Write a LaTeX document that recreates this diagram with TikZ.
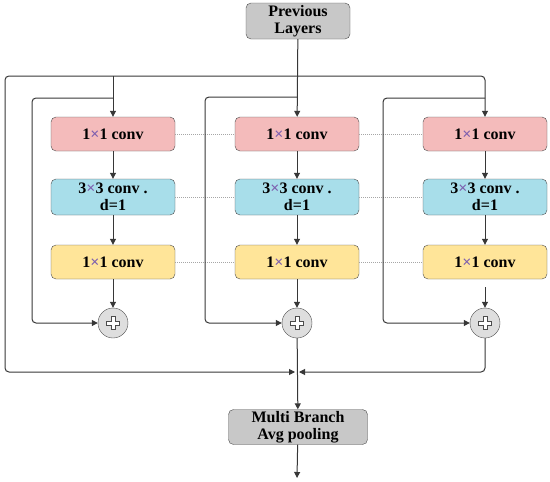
\documentclass[tikz,border=0pt]{standalone}
\usepackage{fontspec}
\setmainfont{Liberation Serif}
\usepackage{xcolor}
\usepackage{tikz}
\usetikzlibrary{arrows.meta}
\definecolor{convpink}{RGB}{244,187,187}
\definecolor{convblue}{RGB}{168,222,234}
\definecolor{convyellow}{RGB}{255,229,153}
\definecolor{boxgray}{RGB}{200,200,200}
\definecolor{addgray}{RGB}{222,222,222}
\definecolor{crosspurple}{RGB}{125,95,175}
\definecolor{linegray}{RGB}{55,55,55}
\newcommand{\tm}{\textcolor{crosspurple}{×}}
\tikzset{cbox/.style={draw=gray!60!black, fill=#1, rounded corners=5pt,
    minimum width=124pt, minimum height=34pt, inner sep=1pt, align=center,
    font=\bfseries\fontsize{16}{17}\selectfont},
  adder/.style={circle, draw=gray!60!black, fill=addgray, minimum size=30pt,
    inner sep=0pt,
    path picture={\draw[draw=gray!60!black, fill=white, line width=0.6pt]
      ([shift={(-2pt,-6.5pt)}]path picture bounding box.center)
      -- ++(4pt,0) -- ++(0,4.5pt) -- ++(4.5pt,0) -- ++(0,4pt) -- ++(-4.5pt,0)
      -- ++(0,4.5pt) -- ++(-4pt,0) -- ++(0,-4.5pt) -- ++(-4.5pt,0)
      -- ++(0,-4pt) -- ++(4.5pt,0) -- cycle;}},
  link/.style={draw=linegray, line width=1pt, rounded corners=4pt}
}

\begin{document}
\begin{tikzpicture}[x=1pt,y=-1pt]
  \useasboundingbox (0,0) rectangle (550,482);
  \node[cbox=boxgray, minimum width=104pt, minimum height=36pt] (prev) at (298,21) {Previous\\Layers};
  % branch 1
  \node[cbox=convpink] (A1) at (113,134) {1\tm 1 conv};
  \node[cbox=convblue, minimum height=36pt] (A2) at (113,197) {3\tm 3 conv .\\d=1};
  \node[cbox=convyellow] (A3) at (113,262) {1\tm 1 conv};
  % branch 2
  \node[cbox=convpink] (B1) at (297,134) {1\tm 1 conv};
  \node[cbox=convblue, minimum height=36pt] (B2) at (297,197) {3\tm 3 conv .\\d=1};
  \node[cbox=convyellow] (B3) at (297,262) {1\tm 1 conv};
  % branch 3
  \node[cbox=convpink] (C1) at (485,134) {1\tm 1 conv};
  \node[cbox=convblue, minimum height=36pt] (C2) at (485,197) {3\tm 3 conv .\\d=1};
  \node[cbox=convyellow] (C3) at (485,262) {1\tm 1 conv};
  \node[adder] (P1) at (113,323) {};
  \node[adder] (P2) at (297,323) {};
  \node[adder] (P3) at (485,323) {};
  \node[cbox=boxgray, minimum width=139pt, minimum height=35pt] (pool) at (298,427) {Multi Branch\\Avg pooling};
  \coordinate (split) at (297,76);
  \coordinate (join) at (297,372);
  \coordinate (out) at (297,478);
  \coordinate (Ain) at (113,98);
  \coordinate (Bin) at (297,97);
  \coordinate (Cin) at (485,98);
  % dotted links between rows
  \begin{scope}[every edge/.style={draw=gray!70, line width=0.5pt, dash pattern=on 1pt off 1pt}]
    \path (A1) edge (B1) (B1) edge (C1);
    \path (A2) edge (B2) (B2) edge (C2);
    \path (A3) edge (B3) (B3) edge (C3);
  \end{scope}
  \begin{scope}[>={Triangle[length=6pt,width=6pt]},
                every edge/.style={draw=linegray, line width=1pt}]
    \path [->] (prev) edge (B1);
    \path [->] (A1) edge (A2);
    \path [->] (A2) edge (A3);
    \path [->] (A3) edge (P1);
    \path [->] (B1) edge (B2);
    \path [->] (B2) edge (B3);
    \path [->] (B3) edge (P2);
    \path [->] (C1) edge (C2);
    \path [->] (C2) edge (C3);
    \path [->] (C3) edge[shorten <=8pt] (P3);
    \path [->] (P2) edge (pool);
    \path [->] (pool) edge (out);
    \draw [->, link] (split) -| (C1);
    \draw [->, link] (split -| A1) -- (A1);
    \draw [->, link, shorten >=2pt] (split) -- ++(-292,0) |- (join);
    \draw [->, link] (Ain) -- ++(-81,0) |- (P1);
    \draw [->, link] (Bin) -- ++(-92,0) |- (P2);
    \draw [->, link] (Cin) -- ++(-102,0) |- (P3);
    \draw [->, link, shorten >=2pt] (P3) |- (join);
  \end{scope}
\end{tikzpicture}
\end{document}
